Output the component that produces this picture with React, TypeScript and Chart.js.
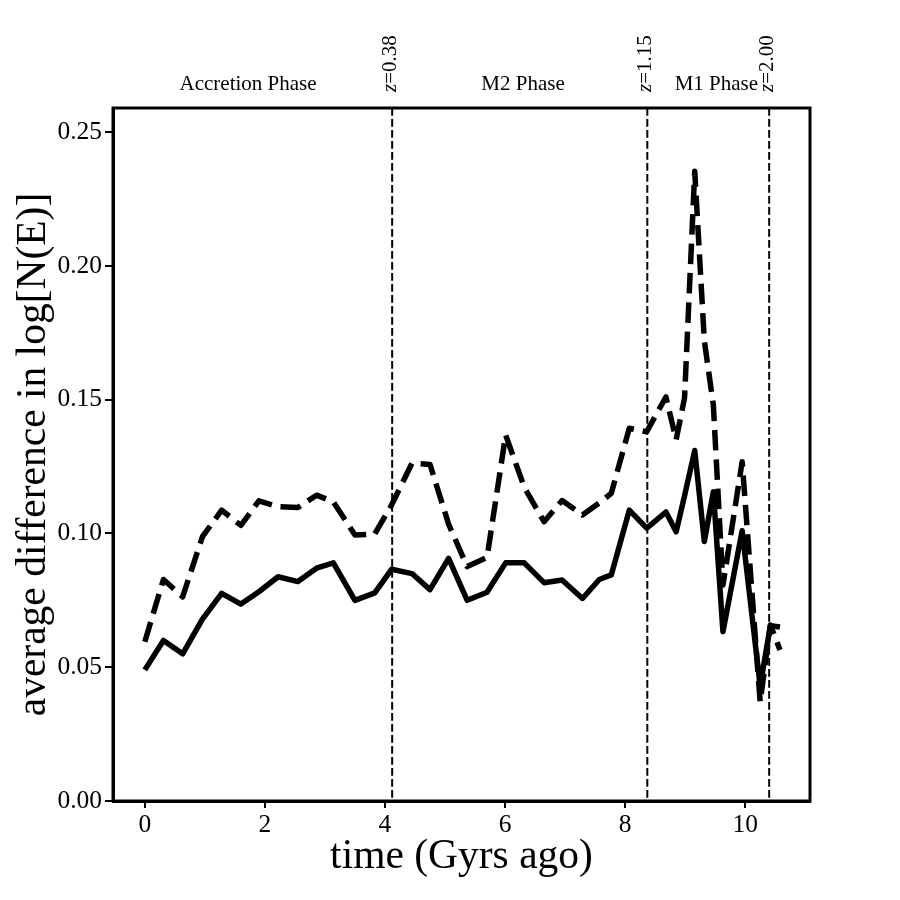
import React, { useEffect, useRef } from 'react';
import { Chart, registerables } from 'chart.js';

Chart.register(...registerables);

// time of each snapshot (Gyrs ago)
const times = [
    0, 0.31, 0.63, 0.96, 1.28, 1.6, 1.9, 2.22, 2.55, 2.86, 3.14, 3.5, 3.83,
    4.11, 4.45, 4.75, 5.06, 5.37, 5.7, 6.01, 6.32, 6.65, 6.95, 7.29, 7.57,
    7.77, 8.07, 8.36, 8.68, 8.85, 8.99, 9.16, 9.32, 9.47, 9.63, 9.95, 10.25,
    10.42, 10.58,
];
// solid curve
const solidValues = [
    0.049, 0.06, 0.055, 0.068, 0.0776, 0.0736, 0.0782, 0.0838, 0.082, 0.087,
    0.089, 0.075, 0.0778, 0.0866, 0.085, 0.079, 0.0907, 0.075, 0.078, 0.089,
    0.089, 0.0816, 0.0826, 0.0757, 0.0828, 0.0845, 0.1087, 0.102, 0.108,
    0.1006, 0.114, 0.131, 0.097, 0.1156, 0.0633, 0.101, 0.043, 0.0655, 0.065,
];
// dashed curve
const dashedValues = [
    0.0595, 0.0828, 0.0763, 0.0988, 0.1087, 0.103, 0.1122, 0.11, 0.1097,
    0.1143, 0.1118, 0.0994, 0.0998, 0.1106, 0.1262, 0.1258, 0.1035, 0.0876,
    0.091, 0.1368, 0.1173, 0.1044, 0.1123, 0.1069, 0.1114, 0.115, 0.1393,
    0.138, 0.151, 0.135, 0.1506, 0.2354, 0.172, 0.148, 0.0807, 0.1268, 0.037,
    0.0658, 0.0564,
];

const xTicks = [0, 2, 4, 6, 8, 10];
const yTicks = [0, 0.05, 0.1, 0.15, 0.2, 0.25];

// redshift markers and phase names along the top
const transitionTimes = [4.12, 8.37, 10.4];
const transitionLabels = ['0.38', '1.15', '2.00'];
const phaseNames = ['Accretion Phase', 'M2 Phase', 'M1 Phase'];
const phaseCenters = [1.72, 6.3, 9.52];

const SERIF = "'Liberation Serif', 'DejaVu Serif', serif";

const phasePlugin = {
    id: 'phases',
    afterDatasetsDraw(chart: any) {
        const { ctx, chartArea, scales } = chart;
        ctx.save();
        ctx.strokeStyle = '#000';
        ctx.lineWidth = 2;
        ctx.setLineDash([7.7, 3.3]);
        transitionTimes.forEach((t) => {
            const x = scales.x.getPixelForValue(t);
            ctx.beginPath();
            ctx.moveTo(x, chartArea.top);
            ctx.lineTo(x, chartArea.bottom);
            ctx.stroke();
        });
        ctx.restore();
    },
    afterDraw(chart: any) {
        const { ctx, chartArea, scales } = chart;
        ctx.save();
        // box around the axes
        ctx.strokeStyle = '#000';
        ctx.lineWidth = 3;
        ctx.strokeRect(chartArea.left, chartArea.top, chartArea.right - chartArea.left, chartArea.bottom - chartArea.top);

        ctx.fillStyle = '#000';
        ctx.textBaseline = 'alphabetic';
        ctx.font = `21px ${SERIF}`;
        ctx.textAlign = 'center';
        phaseNames.forEach((name, i) => {
            ctx.fillText(name, scales.x.getPixelForValue(phaseCenters[i]), 90);
        });

        // rotated z labels
        ctx.textAlign = 'left';
        transitionTimes.forEach((t, i) => {
            const x = scales.x.getPixelForValue(t);
            ctx.save();
            ctx.translate(x + 4, 92);
            ctx.rotate(-Math.PI / 2);
            ctx.font = `italic 21px ${SERIF}`;
            ctx.fillText('z', 0, 0);
            const w = ctx.measureText('z').width;
            ctx.font = `21px ${SERIF}`;
            ctx.fillText('=' + transitionLabels[i], w, 0);
            ctx.restore();
        });
        ctx.restore();
    },
};

const App: React.FC = () => {
    const chartRef = useRef<HTMLCanvasElement>(null);
    const chartInstance = useRef<Chart | null>(null);

    useEffect(() => {
        document.body.style.margin = '0';
        if (!chartRef.current) return;
        const ctx = chartRef.current.getContext('2d');
        if (!ctx) return;
        if (chartInstance.current) chartInstance.current.destroy();

        const tickFont = { family: SERIF, size: 25.5 };
        const titleFont = { family: SERIF, size: 41.5 };

        chartInstance.current = new Chart(ctx, {
            type: 'line',
            data: {
                datasets: [
                    {
                        label: 'solid',
                        data: times.map((t, i) => ({ x: t, y: solidValues[i] })),
                        borderColor: '#000',
                        borderWidth: 5.5,
                        pointRadius: 0,
                        tension: 0,
                        borderJoinStyle: 'round',
                        borderCapStyle: 'butt',
                    },
                    {
                        label: 'dashed',
                        data: times.map((t, i) => ({ x: t, y: dashedValues[i] })),
                        borderColor: '#000',
                        borderWidth: 5.5,
                        borderDash: [20.5, 8.9],
                        pointRadius: 0,
                        tension: 0,
                        borderJoinStyle: 'round',
                        borderCapStyle: 'butt',
                    },
                ],
            },
            options: {
                animation: false,
                responsive: true,
                maintainAspectRatio: false,
                layout: { padding: { left: 0, right: 90, top: 108, bottom: 0 } },
                plugins: {
                    legend: { display: false },
                    tooltip: { enabled: false },
                },
                scales: {
                    x: {
                        type: 'linear',
                        min: -0.53,
                        max: 11.08,
                        afterBuildTicks: (scale: any) => {
                            scale.ticks = xTicks.map((v) => ({ value: v }));
                        },
                        afterFit: (scale: any) => {
                            scale.height = 99;
                        },
                        grid: {
                            display: true,
                            drawOnChartArea: false,
                            drawTicks: true,
                            tickLength: 7,
                            lineWidth: 2,
                            tickWidth: 2,
                            tickColor: '#000',
                        },
                        border: { display: true, color: '#000', width: 3 },
                        ticks: {
                            color: '#000',
                            font: tickFont,
                            padding: 2,
                            maxRotation: 0,
                            callback: (v: any) => String(v),
                        },
                        title: {
                            display: true,
                            text: 'time (Gyrs ago)',
                            color: '#000',
                            font: titleFont,
                            padding: { top: 0, bottom: 18 },
                        },
                    },
                    y: {
                        type: 'linear',
                        min: 0,
                        max: 0.259,
                        afterBuildTicks: (scale: any) => {
                            scale.ticks = yTicks.map((v) => ({ value: v }));
                        },
                        afterFit: (scale: any) => {
                            scale.width = 113;
                        },
                        grid: {
                            display: true,
                            drawOnChartArea: false,
                            drawTicks: true,
                            tickLength: 8,
                            lineWidth: 2,
                            tickWidth: 2,
                            tickColor: '#000',
                        },
                        border: { display: true, color: '#000', width: 3 },
                        ticks: {
                            color: '#000',
                            font: tickFont,
                            padding: 3,
                            callback: (v: any) => Number(v).toFixed(2),
                        },
                        title: {
                            display: true,
                            text: 'average difference in log[N(E)]',
                            color: '#000',
                            font: titleFont,
                            padding: { top: 9, bottom: 0 },
                        },
                    },
                },
            },
            plugins: [phasePlugin],
        });

        return () => {
            if (chartInstance.current) {
                chartInstance.current.destroy();
                chartInstance.current = null;
            }
        };
    }, []);

    return (
        <div style={{ position: 'relative', width: 900, height: 900, background: '#fff' }}>
            <canvas ref={chartRef}></canvas>
        </div>
    );
};

export default App;
